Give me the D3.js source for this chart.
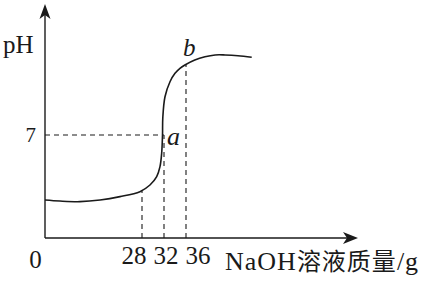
<!DOCTYPE html>
<html>
<head>
<meta charset="utf-8">
<style>
body { margin: 0; background: #fff; }
svg { display: block; }
text { font-family: 'Liberation Serif', 'DejaVu Serif', serif; fill: #1a1a1a; }
.cjk { font-family: 'Noto Sans CJK SC', sans-serif; }
</style>
</head>
<body>
<svg width="444" height="282"></svg>
<script src="https://d3js.org/d3.v7.min.js"></script>
<script>

// titration curve: NaOH mass (g) vs pH
const massValues = [0, 4.3, 10.1, 15.9, 21.65, 27.4, 29.45, 30.67, 31.27, 31.58, 31.73, 31.78,
    32.18, 33.09, 34, 34.9, 35.8, 37.6, 39.45, 41.3, 43.1, 45.45, 47.95];
const phValues = [2.58, 2.51, 2.47, 2.58, 2.81, 3.15, 3.6, 4.17, 4.85, 5.78, 7.0, 8.16,
    9.6, 10.62, 11.19, 11.53, 11.76, 12.1, 12.32, 12.44, 12.44, 12.39, 12.28];

// marked masses with their dashed guide heights
const guideMasses = [28, 32, 36];
const guidePH = [3.25, 7, 11.78];
const guideTickLabels = ['28', '32', '36'];

const yTickValue = 7;
const yTickLabel = '7';
const originLabel = '0';
const pointLabels = ['a', 'b'];
const xTitle = 'NaOH溶液质量/g';
const yTitle = 'pH';

const ink = '#1a1a1a';

const svg = d3.select('svg');

// the axis is schematic, so it is not evenly spaced
const x = d3.scaleLinear()
    .domain([0, 28, 36])
    .range([45, 142, 186]);

const y = d3.scaleLinear()
    .domain([0, 7])
    .range([238, 135]);

const x0 = x(0);
const y0 = y(0);
const xAxisEnd = 358;
const yAxisTop = 4;

// axes with arrow heads
svg.append('line')
    .attr('x1', x0).attr('y1', y0)
    .attr('x2', xAxisEnd - 6).attr('y2', y0)
    .attr('stroke', ink).attr('stroke-width', 1.4);

svg.append('path')
    .attr('d', `M${xAxisEnd},${y0} L${xAxisEnd - 15},${y0 - 6} L${xAxisEnd - 11},${y0} L${xAxisEnd - 15},${y0 + 6} Z`)
    .attr('fill', ink);

svg.append('line')
    .attr('x1', x0).attr('y1', y0)
    .attr('x2', x0).attr('y2', yAxisTop + 6)
    .attr('stroke', ink).attr('stroke-width', 1.4);

svg.append('path')
    .attr('d', `M${x0},${yAxisTop} L${x0 + 5.5},${yAxisTop + 15} L${x0},${yAxisTop + 11} L${x0 - 5.5},${yAxisTop + 15} Z`)
    .attr('fill', ink);

// dashed guides
const dash = '5,4';

svg.selectAll('line.guide')
    .data(guideMasses)
    .join('line')
    .attr('class', 'guide')
    .attr('x1', d => x(d)).attr('x2', d => x(d))
    .attr('y1', y0)
    .attr('y2', (d, i) => y(guidePH[i]))
    .attr('stroke', ink)
    .attr('stroke-width', 1.1)
    .attr('stroke-dasharray', dash);

svg.append('line')
    .attr('x1', x0).attr('x2', x(guideMasses[1]))
    .attr('y1', y(yTickValue)).attr('y2', y(yTickValue))
    .attr('stroke', ink)
    .attr('stroke-width', 1.1)
    .attr('stroke-dasharray', dash);

// the curve
const line = d3.line()
    .x(d => x(d[0]))
    .y(d => y(d[1]))
    .curve(d3.curveCatmullRom.alpha(0.5));

svg.append('path')
    .datum(d3.zip(massValues, phValues))
    .attr('d', line)
    .attr('fill', 'none')
    .attr('stroke', ink)
    .attr('stroke-width', 1.6);

// tick labels, packed side by side because the ticks are so close
svg.selectAll('text.xtick')
    .data(guideTickLabels)
    .join('text')
    .attr('class', 'xtick')
    .attr('x', (d, i) => x(guideMasses[1]) + 2 + (i - 1) * 32)
    .attr('y', y0 + 26)
    .attr('text-anchor', 'middle')
    .attr('font-size', 25)
    .text(d => d);

svg.append('text')
    .attr('x', x0 - 9.5)
    .attr('y', y0 + 30)
    .attr('text-anchor', 'middle')
    .attr('font-size', 25)
    .text(originLabel);

svg.append('text')
    .attr('x', x0 - 9)
    .attr('y', y(yTickValue) + 7)
    .attr('text-anchor', 'end')
    .attr('font-size', 21)
    .text(yTickLabel);

// axis titles
svg.append('text')
    .attr('x', 3)
    .attr('y', 53)
    .attr('font-size', 25)
    .text(yTitle);

const title = svg.append('text')
    .attr('x', 225)
    .attr('y', 270)
    .attr('font-size', 26)
    .attr('letter-spacing', 1);

const titleParts = xTitle.match(/[A-Za-z]+|[^A-Za-z\/]+|\/[A-Za-z]*/g);
titleParts.forEach(p => {
    title.append('tspan')
        .attr('class', /[\u4e00-\u9fff]/.test(p) ? 'cjk' : null)
        .attr('font-size', /[\u4e00-\u9fff]/.test(p) ? 24 : 26)
        .text(p);
});

// point labels a and b
svg.append('text')
    .attr('x', x(guideMasses[1]) + 3)
    .attr('y', y(guidePH[1]) + 10)
    .attr('font-size', 26)
    .attr('font-style', 'italic')
    .text(pointLabels[0]);

svg.append('text')
    .attr('x', x(guideMasses[2]) - 3)
    .attr('y', y(guidePH[2]) - 9)
    .attr('font-size', 25)
    .attr('font-style', 'italic')
    .text(pointLabels[1]);

</script>
</body>
</html>
